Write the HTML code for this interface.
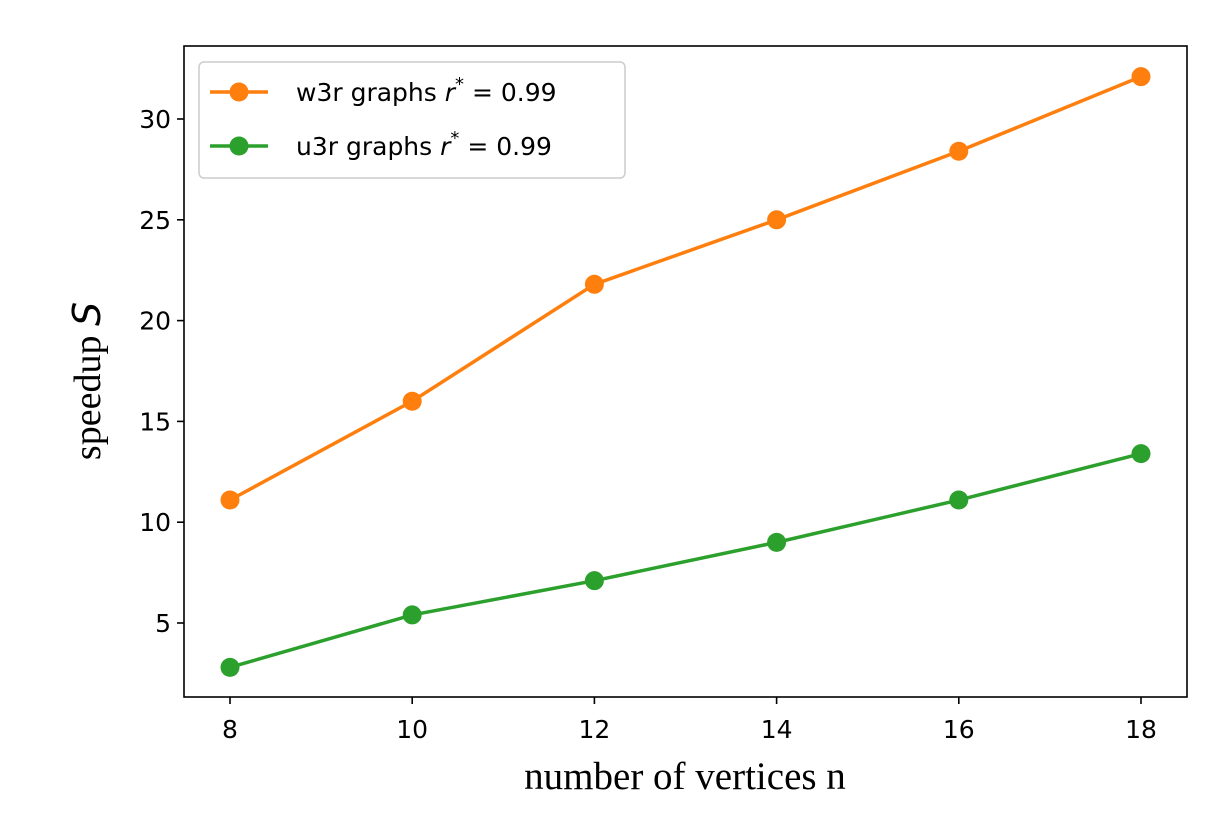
<!DOCTYPE html>
<html><head><meta charset="utf-8"><style>
body{margin:0;background:#fff;}
svg text{font-family:"DejaVu Sans",sans-serif;}
</style></head><body>
<svg width="1222" height="822" xmlns="http://www.w3.org/2000/svg">
<g id="plot"></g>
</svg>
<script>
const xCategories=[8,10,12,14,16,18];
const w3rValues=[11.1,16.0,21.8,25.0,28.4,32.1];
const u3rValues=[2.8,5.4,7.1,9.0,11.1,13.4];
const xTickLabels=[8,10,12,14,16,18];
const yTickLabels=[5,10,15,20,25,30];

const L=184,R=1187,T=46,B=697;
const xs=v=>230+(v-8)*91.1;
const ys=v=>723.8-v*20.16;
const NS="http://www.w3.org/2000/svg";
const g=document.getElementById('plot');
function mk(tag,attrs,parent){const e=document.createElementNS(NS,tag);for(const k in attrs)e.setAttribute(k,attrs[k]);(parent||g).appendChild(e);return e;}

const frame=mk('rect',{x:L,y:T,width:R-L,height:B-T,fill:'none',stroke:'#000','stroke-width':1.6});



xTickLabels.forEach(v=>{
  const t=mk('line',{x1:xs(v),x2:xs(v),y1:B,y2:B+7,stroke:'#000','stroke-width':1.6});
  
  
  const l=mk('text',{x:xs(v),y:B+41,'text-anchor':'middle','font-size':25});
  l.textContent=v;
  
  
});
yTickLabels.forEach(v=>{
  const t=mk('line',{x1:L-7,x2:L,y1:ys(v),y2:ys(v),stroke:'#000','stroke-width':1.6});
  
  
  const l=mk('text',{x:L-13,y:ys(v)+9,'text-anchor':'end','font-size':25});
  l.textContent=v;
  
  
});

function series(vals,color,name){
  const pts=vals.map((v,i)=>xs(xCategories[i])+','+ys(v)).join(' ');
  const pl=mk('polyline',{points:pts,fill:'none',stroke:color,'stroke-width':3.5});
  
  
  vals.forEach((v,i)=>{
    const c=mk('circle',{cx:xs(xCategories[i]),cy:ys(v),r:9.5,fill:color});
    
    
  });
}
series(w3rValues,'#ff7f0e','w3r');
series(u3rValues,'#2ca02c','u3r');

const xl=mk('text',{x:685,y:789,'text-anchor':'middle','font-size':39,style:'font-family:"Liberation Serif",serif'});
xl.textContent='number of vertices n';


const yl=mk('text',{transform:'translate(100,381) rotate(-90)','text-anchor':'middle','font-size':38,style:'font-family:"Liberation Serif",serif'});
yl.innerHTML='speedup <tspan font-style="italic" style="font-family:DejaVu Sans,sans-serif">S</tspan>';



const lg=mk('g',{});


mk('rect',{x:199,y:62,width:426,height:116,rx:5,fill:'#fff',stroke:'#ccc','stroke-width':1.5},lg);
[['#ff7f0e','w3r graphs ',92],['#2ca02c','u3r graphs ',146]].forEach(([c,txt,y])=>{
  const e=mk('g',{},lg);
  
  
  mk('line',{x1:210,x2:268,y1:y,y2:y,stroke:c,'stroke-width':3.5},e);
  mk('circle',{cx:239,cy:y,r:9.5,fill:c},e);
  const t=mk('text',{x:296,y:y+9,'font-size':25},e);
  t.innerHTML=txt+'<tspan font-style="italic">r</tspan><tspan dy="-11" font-size="18">*</tspan><tspan dy="11"> = 0.99</tspan>';
});
</script>
</body></html>
